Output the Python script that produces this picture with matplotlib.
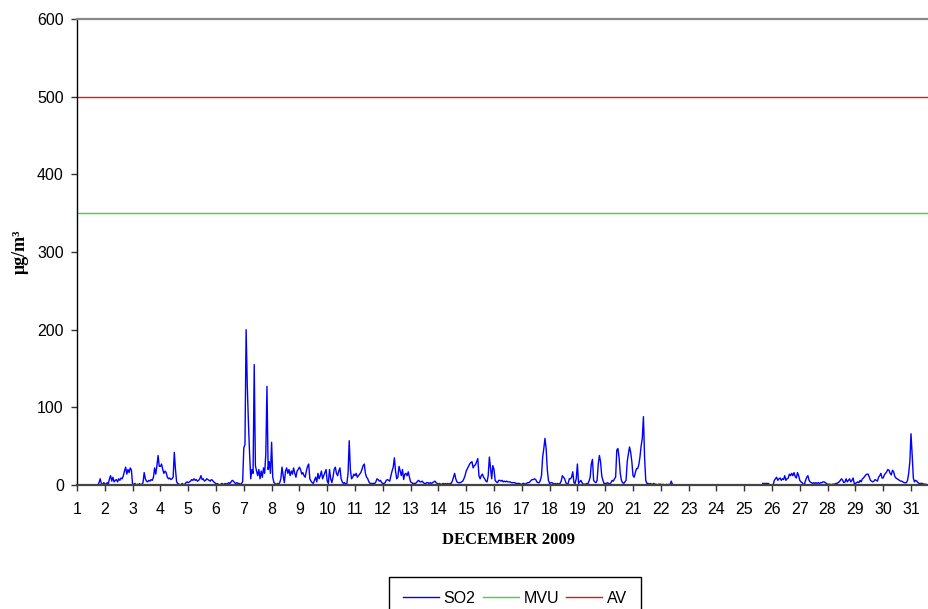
import numpy as np
import matplotlib
matplotlib.use("Agg")
import matplotlib.pyplot as plt

nan = np.nan
# Hourly SO2 values (µg/m3), one list of 24 hours per day of December 2009
day01 = [nan]*18 + [0, 3, 8, 2, 0, 3]
day02 = [2,0,3,1,8,12,5,10,4,6,7,4,8,6,9,8,12,18,23,14,20,16,22,19]
day03 = [0,1,2,0,1,0,2,0,1,3,16,8,5,4,6,5,7,6,10,22,14,25,38,24]
day04 = [24,27,20,15,18,16,10,8,9,7,8,10,42,20,4,2,1,0,1,2,0,1,3,4]
day05 = [3,4,5,7,6,8,6,7,5,6,8,12,7,8,5,6,8,7,6,5,7,6,4,3]
day06 = [1,2,1,0,1,2,1,1,2,1,2,3,2,4,6,5,3,2,3,2,2,1,2,4]
day07 = [48,52,200,128,80,40,8,20,15,155,25,18,12,20,8,18,10,22,15,40,127,20,30,15]
day08 = [55,10,3,2,0,2,1,3,8,23,12,3,18,22,15,20,12,18,14,22,15,10,18,20]
day09 = [23,20,14,16,12,10,18,24,27,8,5,3,2,6,10,4,15,8,12,18,8,12,16,20]
day10 = [5,2,20,8,3,10,20,23,15,12,18,22,8,4,2,3,1,2,15,57,20,8,10,14]
day11 = [12,15,10,12,14,16,20,25,27,15,10,8,4,2,2,2,2,2,4,8,7,5,6,3]
day12 = [2,2,3,6,7,6,5,12,18,23,35,18,8,10,24,18,12,20,7,14,15,12,17,10]
day13 = [4,3,2,2,2,3,5,6,4,4,5,3,2,2,3,3,2,3,2,3,4,5,3,2]
day14 = [1,2,1,1,2,1,2,1,2,1,2,2,5,10,15,8,4,3,3,3,4,5,8,12]
day15 = [18,21,24,27,29,30,22,25,26,30,34,12,8,12,14,10,8,5,4,12,36,22,8,25]
day16 = [20,6,4,3,6,6,5,6,4,5,4,5,4,4,4,3,3,3,3,2,2,2,2,1]
day17 = [1,2,2,1,2,3,3,4,6,7,7,8,7,4,3,3,6,12,36,47,60,47,20,6]
day18 = [2,3,3,2,1,2,1,2,1,2,5,12,10,8,3,1,2,8,8,10,17,3,2,8]
day19 = [27,2,4,6,3,1,1,1,2,1,5,10,27,33,6,4,3,6,27,38,30,12,6,2]
day20 = [2,2,3,2,1,3,6,5,8,10,45,47,35,15,6,3,2,4,6,30,40,49,42,30]
day21 = [12,10,16,21,21,26,36,50,60,88,35,6,2,2,1,2,1,1,2,1,1,0,1,1]
day22 = [1,0,1,0,0,1,0,1,0,5,1,0] + [nan]*12
day23 = [nan]*24
day24 = [nan]*24
day25 = [nan]*16 + [2,2,2,2,2,2,0,0]
day26 = [0,0,6,8,10,6,8,9,6,8,7,12,6,8,9,14,12,15,12,16,11,9,16,12]
day27 = [6,4,3,1,1,6,10,12,6,4,3,2,3,2,3,2,3,2,3,3,4,4,3,2]
day28 = [1,1,1,0,1,1,1,2,2,3,4,6,8,6,3,4,8,4,6,8,4,6,9,2]
day29 = [2,3,4,3,6,4,8,9,11,13,14,14,10,6,5,4,5,7,6,5,10,12,15,9]
day30 = [9,13,15,17,20,19,15,13,19,17,11,9,8,7,6,5,5,4,3,3,3,6,15,30]
day31 = [66,39,9,4,6,5,3,2,2,2,2,1,1,1,0,0,0,0,0,0,0,0,0,0]

days = [day01, day02, day03, day04, day05, day06, day07, day08, day09, day10,
        day11, day12, day13, day14, day15, day16, day17, day18, day19, day20,
        day21, day22, day23, day24, day25, day26, day27, day28, day29, day30, day31]

MVU = 350
AV = 500
xticks = list(range(1, 32))
yticks = [0, 100, 200, 300, 400, 500, 600]

so2 = np.concatenate([np.array(d, dtype=float) for d in days])
t = 1 + np.arange(len(so2)) / 24.0

fig = plt.figure(figsize=(9.29, 6.09), dpi=100)
W, H = 929, 609
x0, x1 = 77, 77 + 31 * 27.8
y0, y1 = 485, 19
ax = fig.add_axes([x0 / W, 1 - y0 / H, (x1 - x0) / W, (y0 - y1) / H])

ax.plot(t, so2, color="#0000FF", lw=1.0, label="SO2")
ax.axhline(MVU, color="#33DD33", lw=1.0, label="MVU")
ax.axhline(AV, color="#EE1111", lw=1.0, label="AV")

ax.set_xlim(1, 32)
ax.set_ylim(0, 600)
ax.set_xticks(xticks)
ax.set_yticks(yticks)

ax.spines["right"].set_visible(False)
ax.spines["top"].set_color("#888888")
ax.spines["top"].set_linewidth(1.6)
ax.spines["left"].set_color("black")
ax.spines["left"].set_linewidth(1.0)
ax.spines["bottom"].set_color("#444444")
ax.spines["bottom"].set_linewidth(1.6)

ax.tick_params(axis="both", direction="out", length=4, width=1, colors="#333333",
               labelcolor="black", labelsize=11.5)
ax.tick_params(axis="y", pad=5.5)
ax.tick_params(axis="x", pad=8.5)
for lab in ax.get_xticklabels() + ax.get_yticklabels():
    lab.set_fontfamily("Liberation Sans")

fig.text(508 / W, 1 - 540 / H, "DECEMBER 2009", ha="center", va="center",
         fontfamily="Liberation Serif", fontweight="bold", fontsize=12)
fig.text(20 / W, 1 - 252 / H, "μg/m³", ha="center", va="center", rotation=90,
         fontfamily="Liberation Serif", fontweight="bold", fontsize=13)

leg = fig.legend(loc="upper center", bbox_to_anchor=(515 / W, 1 - 577 / H), ncol=3,
                 frameon=True, fancybox=False, edgecolor="black", framealpha=1,
                 prop={"family": "Liberation Sans", "size": 11.5},
                 handlelength=2.25, handletextpad=0.3, columnspacing=0.45,
                 borderpad=0.85, borderaxespad=0)
leg.get_frame().set_linewidth(1.0)

fig.savefig("out.png", dpi=100)
